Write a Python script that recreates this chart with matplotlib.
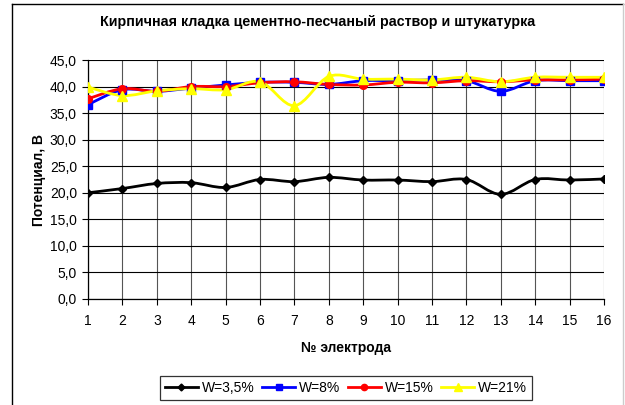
import matplotlib.pyplot as plt
from matplotlib.lines import Line2D
from matplotlib.path import Path
from matplotlib.patches import PathPatch

plt.rcParams['font.family'] = ['Liberation Sans', 'DejaVu Sans']

# values
electrodes = list(range(1, 17))
w_3_5 = [20.0, 20.8, 21.75, 21.9, 21.0, 22.5, 22.1, 22.9, 22.4, 22.4, 22.1, 22.5, 19.7, 22.5, 22.4, 22.6]
w_8 = [36.6, 39.4, 39.1, 39.7, 40.3, 40.8, 40.8, 40.4, 41.1, 41.1, 41.25, 41.1, 39.1, 41.1, 41.1, 41.1]
w_15 = [37.7, 39.6, 39.1, 40.0, 40.0, 40.7, 40.9, 40.4, 40.3, 40.8, 40.7, 41.1, 40.9, 41.25, 41.25, 41.4]
w_21 = [39.9, 38.3, 39.2, 39.6, 39.4, 40.9, 36.4, 41.9, 41.4, 41.4, 41.25, 41.75, 40.9, 41.75, 41.75, 41.75]
labels = ["W=3,5%", "W=8%", "W=15%", "W=21%"]
y_ticks = [0, 5, 10, 15, 20, 25, 30, 35, 40, 45]

W, H = 625, 405


def smooth_path(xs, ys):
    """excel-like smoothed line: catmull-rom turned into cubic bezier pieces"""
    pts = list(zip(xs, ys))
    verts = [pts[0]]
    codes = [Path.MOVETO]
    n = len(pts)
    for i in range(n - 1):
        p0 = pts[i - 1] if i > 0 else pts[i]
        p1 = pts[i]
        p2 = pts[i + 1]
        p3 = pts[i + 2] if i + 2 < n else pts[i + 1]
        c1 = (p1[0] + (p2[0] - p0[0]) / 6, p1[1] + (p2[1] - p0[1]) / 6)
        c2 = (p2[0] - (p3[0] - p1[0]) / 6, p2[1] - (p3[1] - p1[1]) / 6)
        verts += [c1, c2, p2]
        codes += [Path.CURVE4] * 3
    return Path(verts, codes)


fig = plt.figure(figsize=(W / 100, H / 100), dpi=100)
ax = fig.add_axes([88 / W, 1 - 299 / H, (604 - 88) / W, (299 - 60) / H])

series = [
    (w_3_5, "black", "D", 4.5),
    (w_8, "#0000ff", "s", 5.5),
    (w_15, "#ff0000", "o", 5.5),
    (w_21, "#ffff00", "^", 7),
]
handles = []
for (vals, color, marker, ms), label in zip(series, labels):
    ax.add_patch(PathPatch(smooth_path(electrodes, vals), facecolor="none",
                           edgecolor=color, lw=2, zorder=3))
    ax.plot(electrodes, vals, linestyle="none", marker=marker, color=color,
            markersize=ms, zorder=4)
    handles.append(Line2D([], [], color=color, lw=2, marker=marker, markersize=ms - 1))

ax.set_xlim(1, 16)
ax.set_ylim(0, 45)
ax.set_xticks(electrodes)
ax.set_yticks(y_ticks)
ax.set_yticklabels([f"{v:.1f}".replace(".", ",") for v in y_ticks])
ax.tick_params(axis="both", labelsize=10, direction="out", length=4, width=0.8, color="black")
ax.tick_params(axis="x", pad=7)
ax.tick_params(axis="y", pad=4)
ax.grid(axis="y", color="black", lw=0.8)
ax.grid(axis="x", color="#555555", lw=0.8)
for side in ("top", "right"):
    ax.spines[side].set_visible(False)
for side in ("left", "bottom"):
    ax.spines[side].set_linewidth(0.9)

ax.set_ylabel("Потенциал, В", fontsize=10, fontweight="bold", labelpad=3)
ax.set_xlabel("№ электрода", fontsize=10, fontweight="bold", labelpad=9)
fig.text(318 / W, 1 - 22 / H, "Кирпичная кладка цементно-песчаный раствор и штукатурка",
         ha="center", va="center", fontsize=10.3, fontweight="bold")

leg = fig.legend(handles, labels, loc="center", bbox_to_anchor=(346 / W, 1 - 388 / H),
                 ncol=4, fontsize=10, frameon=True, fancybox=False, handlelength=2.4,
                 columnspacing=0.5, handletextpad=0.3, borderpad=0.35, borderaxespad=0)
leg.get_frame().set_edgecolor("black")
leg.get_frame().set_linewidth(0.9)

# outer chart border (right and bottom sit at the picture edge)
fig.add_artist(Line2D([12 / W, 12 / W], [0, 1 - 4 / H], color="black", lw=1))
fig.add_artist(Line2D([12 / W, 623 / W], [1 - 4 / H, 1 - 4 / H], color="black", lw=1))
fig.add_artist(Line2D([623 / W, 623 / W], [0, 1 - 4 / H], color="#cccccc", lw=1))

fig.savefig("out.png", dpi=100)
